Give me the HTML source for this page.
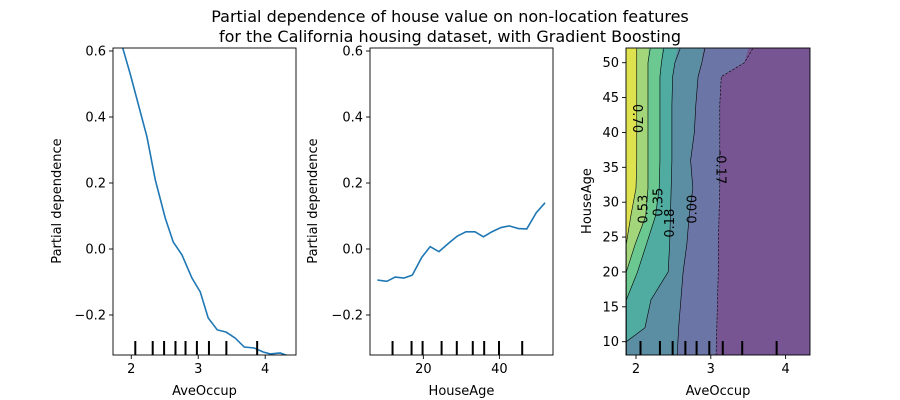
<!DOCTYPE html>
<html><head><meta charset="utf-8"><style>
html,body{margin:0;padding:0;background:#fff}
svg{display:block;font-family:"DejaVu Sans","Liberation Sans",sans-serif}
</style></head><body>
<svg id="fig" width="900" height="400" viewBox="0 0 900 400">
<text x="450" y="22" text-anchor="middle" font-size="16">Partial dependence of house value on non-location features</text>
<text x="450" y="42" text-anchor="middle" font-size="16">for the California housing dataset, with Gradient Boosting</text>
<defs>
<clipPath id="c1"><rect x="113" y="48" width="183" height="307"/></clipPath>
<clipPath id="c2"><rect x="370" y="48" width="183" height="307"/></clipPath>
<clipPath id="c3"><rect x="626" y="48" width="184" height="307"/></clipPath>
</defs>
<g id="p1"></g>
<g id="p2"></g>
<g id="p3"></g>
</svg>
<script>
// Plot 1: AveOccup
const occX = [1.8,1.985,2.234,2.358,2.507,2.627,2.757,2.906,3.03,3.149,3.284,3.418,3.552,3.687,3.836,3.97,4.075,4.224,4.343];
const occY = [0.66,0.53,0.34,0.21,0.094,0.021,-0.018,-0.088,-0.13,-0.209,-0.245,-0.252,-0.27,-0.297,-0.30,-0.312,-0.318,-0.315,-0.324];
const occDeciles = [2.06,2.32,2.49,2.66,2.81,2.98,3.16,3.42,3.88];
// Plot 2: HouseAge
const ageX = [7.9,10.4,12.6,14.9,17.1,19.6,21.8,24.1,26.6,28.9,31.2,33.6,35.8,38.0,40.4,42.6,45.0,47.2,49.7,52.0];
const ageY = [-0.094,-0.098,-0.085,-0.088,-0.079,-0.025,0.007,-0.008,0.017,0.039,0.052,0.052,0.037,0.052,0.065,0.07,0.062,0.061,0.11,0.14];
const ageDeciles = [11.9,16.9,19.8,24.8,28.8,33.0,36.0,39.9,46.0];
const pdTicks = [-0.2,0.0,0.2,0.4,0.6];
const pdTickLabels = ["\u22120.2","0.0","0.2","0.4","0.6"];
const occTicks = [2,3,4];
const ageTicks = [20,40];
// Plot 3: contours (x boundary of each level at each HouseAge row)
const gridAge = [8,10,12,16,20,24,28,32,36,40,44,48,50,52];
const levelNames = ["0.70","0.53","0.35","0.18","0.00","-0.17"];
const c070 = [1.87,1.87,1.87,1.87,1.87,1.87,1.93,2.0,2.01,2.01,2.01,2.01,2.01,2.01];
const c053 = [1.87,1.87,1.87,1.87,1.87,1.99,2.13,2.16,2.16,2.16,2.16,2.16,2.16,2.19];
const c035 = [1.87,1.87,1.87,1.87,2.02,2.14,2.26,2.31,2.32,2.32,2.32,2.32,2.34,2.37];
const c018 = [1.87,1.87,2.12,2.20,2.43,2.45,2.46,2.47,2.48,2.48,2.48,2.49,2.52,2.59];
const c000 = [2.55,2.56,2.57,2.60,2.63,2.68,2.71,2.76,2.73,2.78,2.80,2.83,2.88,2.92];
const cm017 = [3.07,3.075,3.08,3.09,3.10,3.10,3.11,3.12,3.12,3.12,3.12,3.14,3.45,3.56];
const yTicks3 = [10,15,20,25,30,35,40,45,50];
const xTicks3 = [2,3,4];

const NS="http://www.w3.org/2000/svg";
function mk(tag, attrs, parent){const e=document.createElementNS(NS,tag);for(const k in attrs)e.setAttribute(k,attrs[k]);parent.appendChild(e);return e;}
function lin(d0,d1,r0,r1){return v=>r0+(v-d0)*(r1-r0)/(d1-d0);}

function axesFrame(g,L,T,W,H){
  const r=mk('rect',{x:L,y:T,width:W,height:H,fill:'none',stroke:'#000','stroke-width':0.9},g);
  
  
}
function yTickSet(g,ticks,labels,sy,L){
  ticks.forEach((t,i)=>{
    const y=sy(t);
    const l=mk('line',{x1:L-4,x2:L,y1:y,y2:y,stroke:'#000','stroke-width':0.9},g);
    
    
    const tx=mk('text',{x:L-7,y:y+4.5,'text-anchor':'end','font-size':13},g);
    
    
    tx.textContent=labels[i];
  });
}
function xTickSet(g,ticks,sx,B){
  ticks.forEach(t=>{
    const x=sx(t);
    const l=mk('line',{x1:x,x2:x,y1:B,y2:B+4,stroke:'#000','stroke-width':0.9},g);
    
    
    const tx=mk('text',{x:x,y:B+18,'text-anchor':'middle','font-size':13},g);
    
    
    tx.textContent=String(t);
  });
}
function deciles(g,vals,sx,B){
  vals.forEach(v=>{
    const l=mk('line',{x1:sx(v),x2:sx(v),y1:B-14,y2:B,stroke:'#000','stroke-width':2},g);
    
    
  });
}
function label(g,txt,x,y,rot,name){
  const t=mk('text',{x:x,y:y,'text-anchor':'middle','font-size':13},g);
  if(rot)t.setAttribute('transform',`rotate(-90 ${x} ${y})`);
  
  
  t.textContent=txt;
}
function pdPlot(id,clip,L,xs,ys,dec,xticks,d0,d1,xl,ylx){
  const g=document.getElementById(id);
  const T=48,H=307,W=183,B=T+H;
  const sx=lin(d0,d1,L,L+W), sy=lin(0,0.2,249,183);
  const line=mk('polyline',{points:xs.map((x,i)=>sx(x)+','+sy(ys[i])).join(' '),fill:'none',stroke:'#1f77b4','stroke-width':1.6,'clip-path':`url(#${clip})`},g);
  
  
  deciles(g,dec,sx,B);
  axesFrame(g,L,T,W,H);
  yTickSet(g,pdTicks,pdTickLabels,sy,L);
  xTickSet(g,xticks,sx,B);
  label(g,xl,L+W/2,395,false,'x-axis-title');
  label(g,'Partial dependence',ylx,201,true,'y-axis-title');
}
pdPlot('p1','c1',113,occX,occY,occDeciles,occTicks,1.727,4.46,'AveOccup',61);
pdPlot('p2','c2',370,ageX,ageY,ageDeciles,ageTicks,5.97,54.1,'HouseAge',317);

(function(){
  const g=document.getElementById('p3');
  const L=626,T=48,W=184,H=307,B=T+H;
  const xmin=1.867,xmax=4.33;
  const sx=lin(2,3,636,710.8), sy=lin(10,50,341.7,62.7);
  const cg=mk('g',{'clip-path':'url(#c3)'},g);
  
  
  const left=gridAge.map(()=>xmin), right=gridAge.map(()=>xmax);
  const bounds=[left,c070,c053,c035,c018,c000,cm017,right];
  const colors=['#dfe24f','#a3d67b','#6bc890','#50aba0','#5c8ea3','#6c76a6','#775592'];
  const bandNames=['band-above-0.70','band-0.53-0.70','band-0.35-0.53','band-0.18-0.35','band-0.00-0.18','band-neg0.17-0.00','band-below-neg0.17'];
  for(let b=0;b<7;b++){
    const a=bounds[b], c=bounds[b+1];
    const pts=[];
    const ext=v=>v===xmin?xmin-0.2:(v===xmax?xmax+0.2:v);
    const ya=i=>i===0?gridAge[0]-2:(i===gridAge.length-1?gridAge[i]+2:gridAge[i]);
    for(let i=0;i<gridAge.length;i++)pts.push(sx(ext(a[i]))+','+sy(ya(i)));
    for(let i=gridAge.length-1;i>=0;i--)pts.push(sx(ext(c[i]))+','+sy(ya(i)));
    const p=mk('polygon',{points:pts.join(' '),fill:colors[b],stroke:colors[b],'stroke-width':0.5},cg);
    
    
  }
  const lines=[c070,c053,c035,c018,c000,cm017];
  lines.forEach((arr,k)=>{
    const pl=mk('polyline',{points:arr.map((x,i)=>sx(x)+','+sy(gridAge[i])).join(' '),fill:'none',stroke:'#000','stroke-width':0.6},cg);
    if(k===5)pl.setAttribute('stroke-dasharray','2.5,1.5');
    
    
  });
  const lab=[["0.70",2.01,42,90],["0.53",2.11,29,-90],["0.35",2.31,30,-90],["0.18",2.46,27,-90],["0.00",2.76,29,-90],["-0.17",3.12,35,90]];
  lab.forEach(l=>{
    const x=sx(l[1]), y=sy(l[2]);
    const t=mk('text',{x:x,y:y,'text-anchor':'middle','dominant-baseline':'central','font-size':13,transform:`rotate(${l[3]} ${x} ${y})`},g);
    
    
    t.textContent=l[0];
  });
  deciles(g,occDeciles,sx,B);
  axesFrame(g,L,T,W,H);
  yTickSet(g,yTicks3,yTicks3.map(String),sy,L);
  xTickSet(g,xTicks3,sx,B);
  label(g,'AveOccup',L+W/2,395,false,'x-axis-title');
  label(g,'HouseAge',591,201,true,'y-axis-title');
})();
</script>
</body></html>
